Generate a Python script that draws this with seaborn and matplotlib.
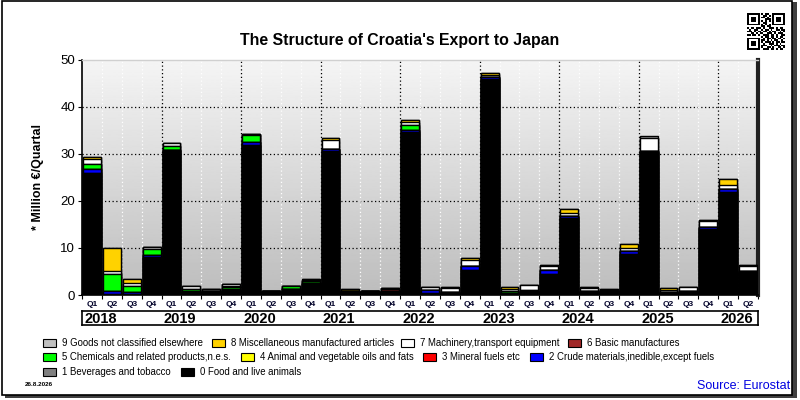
import numpy as np
import pandas as pd
import matplotlib
matplotlib.use("Agg")
import matplotlib.pyplot as plt
from matplotlib.patches import Rectangle
import seaborn as sns

# quarters 2018Q1 .. 2026Q2
years = [2018, 2019, 2020, 2021, 2022, 2023, 2024, 2025, 2026]
quarters = [f"{y}Q{q}" for y in years for q in range(1, 5)][:34]

# values in million EUR
food = [25.9, 0.3, 0.3, 8.1, 30.8, 0.7, 0.8, 1.0, 32.0, 0.85, 1.3, 2.6,
        30.6, 0.9, 0.9, 0.7, 34.7, 0.4, 0.5, 5.4, 45.9, 0.5, 0.8, 4.5,
        16.4, 0.7, 0.8, 8.7, 30.4, 0.5, 0.6, 14.0, 22.0, 4.8]
beverages = [0.0] * 34
crude = [0.9, 0.6, 0.3, 0.4, 0.0, 0.2, 0.0, 0.2, 0.6, 0.0, 0.0, 0.0,
         0.5, 0.0, 0.0, 0.2, 0.4, 0.6, 0.2, 0.8, 0.5, 0.0, 0.0, 0.8,
         0.4, 0.2, 0.2, 0.6, 0.3, 0.1, 0.2, 0.5, 0.5, 0.3]
mineral = [0.0] * 34
oils = [0.0] * 34
chemicals = [1.0, 3.6, 1.3, 1.3, 0.9, 0.4, 0.0, 0.4, 1.5, 0.0, 0.6, 0.3,
             0.0, 0.0, 0.0, 0.0, 1.0, 0.0, 0.0, 0.0, 0.0, 0.3, 0.3, 0.0,
             0.0, 0.0, 0.0, 0.0, 0.0, 0.0, 0.0, 0.0, 0.0, 0.0]
basic = [0.0, 0.0, 0.0, 0.0, 0.0, 0.0, 0.0, 0.3, 0.0, 0.0, 0.0, 0.0,
         0.0, 0.0, 0.0, 0.3, 0.0, 0.0, 0.0, 0.0, 0.0, 0.0, 0.0, 0.0,
         0.0, 0.0, 0.0, 0.0, 0.0, 0.0, 0.0, 0.0, 0.0, 0.0]
machinery = [1.1, 0.6, 0.7, 0.5, 0.6, 0.6, 0.5, 0.5, 0.2, 0.0, 0.0, 0.2,
             1.8, 0.0, 0.0, 0.3, 0.7, 0.7, 0.8, 1.2, 0.4, 0.5, 1.0, 0.8,
             0.7, 0.5, 0.0, 0.8, 2.7, 0.5, 0.9, 1.2, 0.8, 1.0]
misc = [0.5, 4.8, 0.7, 0.0, 0.0, 0.0, 0.0, 0.0, 0.0, 0.0, 0.0, 0.3,
        0.4, 0.3, 0.0, 0.0, 0.4, 0.0, 0.3, 0.4, 0.4, 0.3, 0.0, 0.3,
        0.8, 0.4, 0.3, 0.8, 0.0, 0.3, 0.0, 0.3, 1.3, 0.3]
other = [0.0] * 28 + [0.4] + [0.0] * 5

series = [food, beverages, crude, mineral, oils, chemicals, basic, machinery, misc, other]
names = ["0 Food and live animals", "1 Beverages and tobacco",
         "2 Crude materials,inedible,except fuels", "3 Mineral fuels etc",
         "4 Animal and vegetable oils and fats", "5 Chemicals and related products,n.e.s.",
         "6 Basic manufactures", "7 Machinery,transport equipment",
         "8 Miscellaneous manufactured articles", "9 Goods not classified elsewhere"]
colors = ["#000000", "#808080", "#0000ff", "#ff0000", "#ffff00",
          "#00ff00", "#a02828", "#ffffff", "#ffd200", "#c0c0c0"]

df = pd.DataFrame({n: v for n, v in zip(names, series)}, index=quarters)
cum = df.cumsum(axis=1)

sns.set_theme(style="white")
plt.rcParams['font.family'] = ['Liberation Sans', 'DejaVu Sans']
plt.rcParams['text.color'] = 'black'
plt.rcParams['axes.labelcolor'] = 'black'
plt.rcParams['xtick.color'] = 'black'
plt.rcParams['ytick.color'] = 'black'

fig = plt.figure(figsize=(8, 4), dpi=100)
fig.patch.set_facecolor("white")
# outer frame with shadow
fig.patches.append(Rectangle((0.006, 0.006), 0.99, 0.99, transform=fig.transFigure,
                             facecolor="#404040", edgecolor="none", zorder=-2))
fig.patches.append(Rectangle((0.002, 0.012), 0.988, 0.985, transform=fig.transFigure,
                             facecolor="white", edgecolor="black", lw=1.2, zorder=-1))

ax = fig.add_axes([0.1025, 0.2625, 0.845, 0.5875])
n = len(quarters)

# gradient background
grad = np.linspace(0.96, 0.74, 256).reshape(-1, 1)
ax.imshow(grad, cmap="gray", vmin=0, vmax=1, aspect="auto",
          extent=[-0.5, n - 0.5, 0, 50], zorder=0)

# stacked bars: draw cumulative totals from top category down
for i in range(len(names) - 1, -1, -1):
    sns.barplot(x=quarters, y=cum[names[i]].values, order=quarters, color=colors[i],
                saturation=1, edgecolor="black", linewidth=1.0, width=0.9,
                errorbar=None, ax=ax, zorder=3)

ax.set_xlim(-0.5, n - 0.5)
ax.set_ylim(0, 50)

# grid lines
for yv in [10, 20, 30, 40]:
    ax.axhline(yv, color="black", ls=(0, (1, 2)), lw=0.9, zorder=1)
for b in range(n - 1):
    if (b + 1) % 4 == 0:
        ax.axvline(b + 0.5, color="black", ls=(0, (1, 2)), lw=0.9, zorder=1)
    else:
        ax.axvline(b + 0.5, color="white", ls=(0, (1, 2)), lw=0.9, zorder=1)

ax.set_yticks([0, 10, 20, 30, 40, 50])
ax.set_yticklabels(["0", "10", "20", "30", "40", "50"], fontsize=9.5)
ax.tick_params(axis="y", length=3, width=0.8, color="black", pad=2, left=True)
ax.set_xticks(range(n))
ax.set_xticklabels([q[-2:] for q in quarters], fontsize=6, fontweight="bold", color="#000028")
ax.set_xticks(np.arange(-0.5, n, 1), minor=True)
ax.tick_params(axis="x", which="major", length=0, pad=4)
ax.tick_params(axis="x", which="minor", length=3, width=0.8, color="black", bottom=True)
ax.set_xlabel("")
ax.set_ylabel("* Million €/Quartal", fontsize=9, fontweight="bold", labelpad=12)

for s in ["left", "bottom"]:
    ax.spines[s].set_color("black")
    ax.spines[s].set_linewidth(1.2)
ax.spines["right"].set_color("#202020")
ax.spines["right"].set_linewidth(3)
ax.spines["top"].set_color("#d0d0d0")
ax.spines["top"].set_linewidth(1)

fig.text(0.5, (400 - 40) / 400, "The Structure of Croatia's Export to Japan",
         fontsize=11.4, fontweight="bold", ha="center", va="center", color="black")

# year strip
yax = fig.add_axes([0.1025, 0.1875, 0.845, 0.034])
yax.set_xlim(-0.5, n - 0.5)
yax.set_ylim(0, 1)
yax.set_xticks([])
yax.set_yticks([])
yax.set_facecolor("white")
for s in yax.spines.values():
    s.set_color("black")
    s.set_linewidth(1.2)
for k, y in enumerate(years):
    yax.text(4 * k - 0.5 + 0.12, 0.45, str(y), fontsize=10.5, fontweight="bold",
             ha="left", va="center")

# legend
sq_w, sq_h = 13 / 800, 8 / 400
rows = [(342.5, [(43, 9), (212, 8), (401, 7), (568, 6)]),
        (357, [(43, 5), (241, 4), (423, 3), (530, 2)]),
        (372, [(43, 1), (181, 0)])]
for yc, items in rows:
    for xp, idx in items:
        fig.patches.append(Rectangle((xp / 800, (400 - yc) / 400 - sq_h / 2), sq_w, sq_h,
                                     transform=fig.transFigure, facecolor=colors[idx],
                                     edgecolor="black", lw=0.8))
        fig.text((xp + 19) / 800, (400 - yc) / 400, names[idx], fontsize=6.9,
                 ha="left", va="center")

fig.text(25 / 800, (400 - 384) / 400, "26.8.2026", fontsize=4.5, fontweight="bold",
         ha="left", va="center")
fig.text(790 / 800, (400 - 386) / 400, "Source: Eurostat", fontsize=9, color="#0000e0",
         ha="right", va="center")

# QR-code style badge, top right
qr_rows = [
    "111111101011001111111",
    "100000100110101000001",
    "101110101101001011101",
    "101110100011101011101",
    "101110101010101011101",
    "100000100110001000001",
    "111111101010101111111",
    "000000001101100000000",
    "101101110100111010110",
    "010011001011010011011",
    "111010110110101100101",
    "001101011001110101110",
    "110110100111011010011",
    "000000001011011010110",
    "111111100101101101101",
    "100000101101010110010",
    "101110101011101011011",
    "101110100100111010100",
    "101110101110010111011",
    "100000101001101001101",
    "111111100111011010110",
]
qr = np.array([[int(c) for c in r] for r in qr_rows])
qax = fig.add_axes([747 / 800, (400 - 50) / 400, 38 / 800, 37 / 400])
qax.imshow(qr, cmap="gray_r", vmin=0, vmax=1, interpolation="nearest", aspect="auto")
qax.axis("off")

fig.savefig("out.png", dpi=100, facecolor=fig.get_facecolor())
